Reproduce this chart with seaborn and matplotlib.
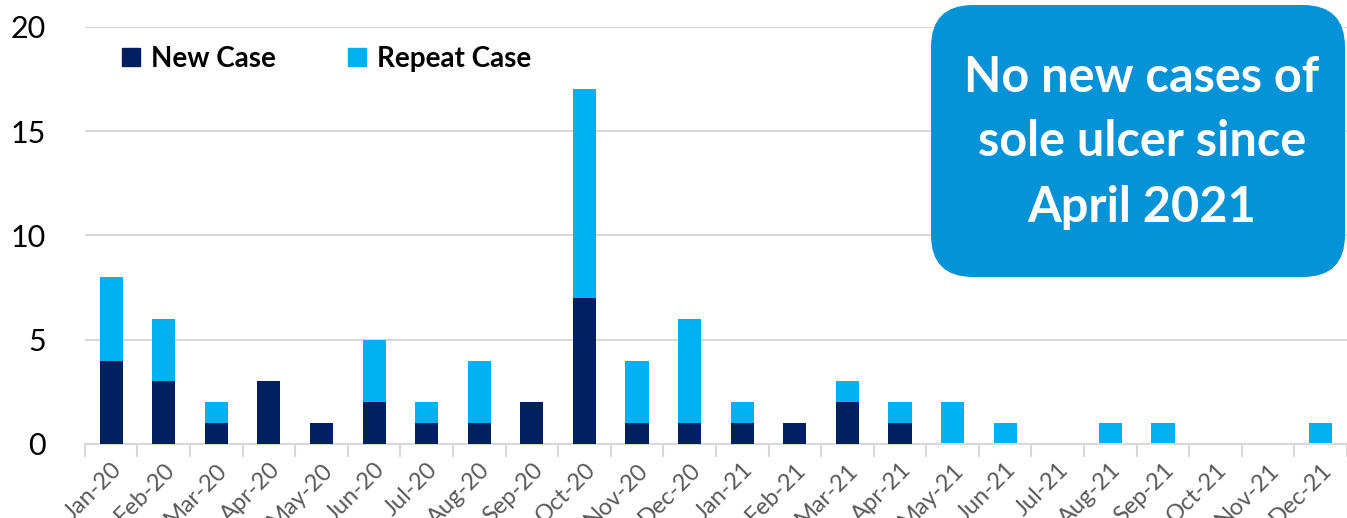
import matplotlib
matplotlib.use('Agg')
import matplotlib.pyplot as plt
from matplotlib.patches import FancyBboxPatch, Patch
import pandas as pd
import seaborn as sns

# monthly sole ulcer cases
months = ['Jan-20', 'Feb-20', 'Mar-20', 'Apr-20', 'May-20', 'Jun-20', 'Jul-20', 'Aug-20',
          'Sep-20', 'Oct-20', 'Nov-20', 'Dec-20', 'Jan-21', 'Feb-21', 'Mar-21', 'Apr-21',
          'May-21', 'Jun-21', 'Jul-21', 'Aug-21', 'Sep-21', 'Oct-21', 'Nov-21', 'Dec-21']
new_case = [4, 3, 1, 3, 1, 2, 1, 1, 2, 7, 1, 1, 1, 1, 2, 1, 0, 0, 0, 0, 0, 0, 0, 0]
repeat_case = [4, 3, 1, 0, 0, 3, 1, 3, 0, 10, 3, 5, 1, 0, 1, 1, 2, 1, 0, 1, 1, 0, 0, 1]
y_ticks = [0, 5, 10, 15, 20]
note = ['No new cases of', 'sole ulcer since', 'April 2021']

navy = '#002060'
light = '#00B0F0'
box_col = '#0592D6'


def main():
    df = pd.DataFrame({'month': months, 'new': new_case, 'repeat': repeat_case})
    df['total'] = df['new'] + df['repeat']

    sns.set_theme(style='white')
    plt.rcParams['font.family'] = ['Lato', 'DejaVu Sans']

    fig = plt.figure(figsize=(13.47, 5.18), dpi=100)
    ax = fig.add_axes([0.063, 0.143, 0.937, 0.805])

    # stacked: total first, new on top of it
    sns.barplot(data=df, x='month', y='total', color=light, width=0.44,
                saturation=1, linewidth=0, ax=ax, zorder=2)
    sns.barplot(data=df, x='month', y='new', color=navy, width=0.44,
                saturation=1, linewidth=0, ax=ax, zorder=3)

    ax.set_xlim(-0.5, len(months) - 0.5)
    ax.set_ylim(0, 20)
    ax.set_yticks(y_ticks)
    ax.set_yticklabels([str(t) for t in y_ticks], fontsize=22, color='black')
    ax.tick_params(axis='y', length=0, pad=28)
    ax.yaxis.grid(True, color='#D9D9D9', lw=1.5, zorder=0)
    ax.set_axisbelow(True)
    ax.set_xlabel('')
    ax.set_ylabel('')

    # category labels, rotated
    ax.set_xticks(range(len(months)))
    ax.set_xticklabels(months, rotation=45, ha='right', rotation_mode='anchor',
                       fontsize=17, color='#595959')
    ax.tick_params(axis='x', which='major', length=0, pad=11)
    ax.set_xticks([i - 0.5 for i in range(len(months) + 1)], minor=True)
    ax.tick_params(axis='x', which='minor', length=9, width=1.5, color='#D9D9D9',
                   direction='out', bottom=True)

    for s in ['top', 'right', 'left']:
        ax.spines[s].set_visible(False)
    ax.spines['bottom'].set_color('#D9D9D9')
    ax.spines['bottom'].set_linewidth(1.5)

    handles = [Patch(color=navy, label='New Case'), Patch(color=light, label='Repeat Case')]
    ax.legend(handles=handles, loc='upper left', bbox_to_anchor=(0.0095, 1.015), ncol=2,
              frameon=False, prop={'weight': 'bold', 'size': 20}, handlelength=0.65,
              handleheight=0.65, handletextpad=0.4, columnspacing=2.6,
              labelcolor='black')

    # callout box (pixel coords)
    box = FancyBboxPatch((931, 241), 414, 272,
                         boxstyle='round,pad=0,rounding_size=42',
                         transform=None, facecolor=box_col, edgecolor='none')
    fig.patches.append(box)
    for i, line in enumerate(note):
        fig.text(1142 / 1347, 1 - (77 + 65 * i) / 518, line, ha='center', va='center',
                 color='white', fontsize=35, fontweight='bold')

    fig.savefig('out.png', dpi=100)


if __name__ == '__main__':
    main()
